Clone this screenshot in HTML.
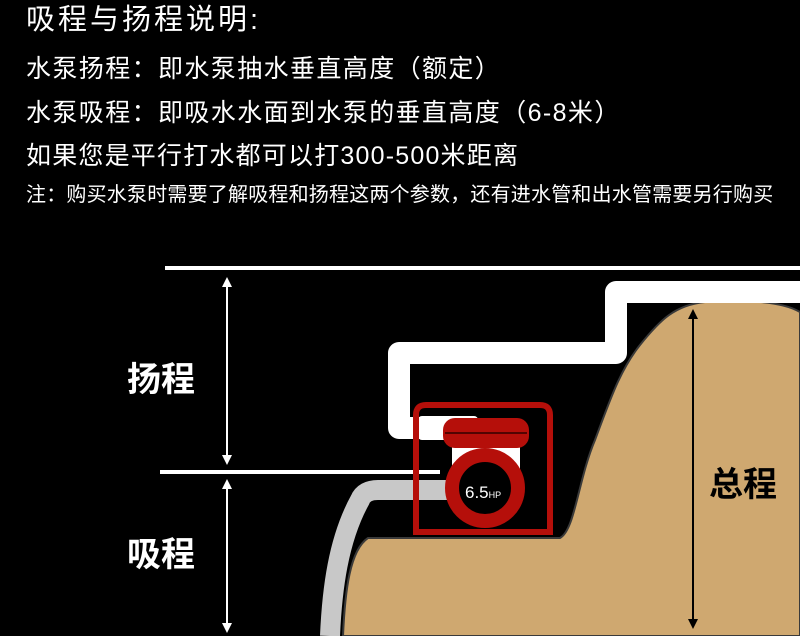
<!DOCTYPE html>
<html><head><meta charset="utf-8"><style>
html,body{margin:0;padding:0;background:#000;}
body{width:800px;height:636px;position:relative;overflow:hidden;font-family:"Liberation Sans","Noto Sans CJK SC",sans-serif;color:#fff;}
.t{position:absolute;left:26px;white-space:nowrap;line-height:1;}
</style></head><body>
<div class="t" style="top:6px;font-size:29px;letter-spacing:3px;">吸程与扬程说明:</div>
<div class="t" style="top:57px;font-size:25px;letter-spacing:1.4px;">水泵扬程：即水泵抽水垂直高度（额定）</div>
<div class="t" style="top:101px;font-size:25px;letter-spacing:1.4px;">水泵吸程：即吸水水面到水泵的垂直高度（6-8米）</div>
<div class="t" style="top:144px;font-size:25px;letter-spacing:1.2px;">如果您是平行打水都可以打300-500米距离</div>
<div class="t" style="top:185px;font-size:20px;letter-spacing:0.2px;">注：购买水泵时需要了解吸程和扬程这两个参数，还有进水管和出水管需要另行购买</div>
<svg width="800" height="636" style="position:absolute;left:0;top:0" xmlns="http://www.w3.org/2000/svg">
<defs>
<marker id="a" markerWidth="10" markerHeight="10" refX="5" refY="5" orient="auto-start-reverse" markerUnits="userSpaceOnUse"><path d="M0,0 L10,5 L0,10 z" fill="#fff"/></marker>
<marker id="b" markerWidth="10" markerHeight="10" refX="5" refY="5" orient="auto-start-reverse" markerUnits="userSpaceOnUse"><path d="M0,0 L10,5 L0,10 z" fill="#000"/></marker>
</defs>
<path d="M343,636 C345,590 350,550 368,538 L560,538 C575,530 578,480 595,440 C610,400 620,370 640,345 C660,320 675,305 705,302 C740,300 780,300 800,312 L800,636 Z" fill="#cfa870" stroke="#3a3a3a" stroke-width="2"/>
<path d="M330,636 C332,590 338,540 360,500 Q364,490 378,490 L455,490" fill="none" stroke="#c8c8c8" stroke-width="20"/>
<path d="M420,428 L399,428 L399,353 L616,353 L616,292 L800,292" fill="none" stroke="#fff" stroke-width="22" stroke-linejoin="round"/>
<rect x="418" y="416" width="60" height="24" rx="4" fill="#fff"/>
<line x1="165" y1="268" x2="800" y2="268" stroke="#fff" stroke-width="4"/>
<line x1="160" y1="472" x2="440" y2="472" stroke="#fff" stroke-width="4"/>
<line x1="227" y1="282" x2="227" y2="460" stroke="#fff" stroke-width="2" marker-start="url(#a)" marker-end="url(#a)"/>
<line x1="227" y1="484" x2="227" y2="628" stroke="#fff" stroke-width="2" marker-start="url(#a)" marker-end="url(#a)"/>
<line x1="693" y1="314" x2="693" y2="624" stroke="#000" stroke-width="2" marker-start="url(#b)" marker-end="url(#b)"/>
<path d="M416,532 L416,415 Q416,405 426,405 L540,405 Q550,405 550,415 L550,532 Z" fill="none" stroke="#b50f0a" stroke-width="6"/>
<rect x="452" y="447" width="68" height="32" fill="#fff"/>
<rect x="443" y="418" width="86" height="30" rx="12" fill="#b50f0a"/>
<line x1="445" y1="433" x2="527" y2="433" stroke="#300" stroke-width="1.5"/>
<circle cx="485" cy="488" r="33" fill="#000" stroke="#b50f0a" stroke-width="14"/>
<text x="465" y="498" font-family="Liberation Sans,sans-serif" font-size="17" fill="#fff">6.5<tspan font-size="9">HP</tspan></text>
<g font-family="Liberation Sans,Noto Sans CJK SC,sans-serif" font-weight="bold" font-size="34">
<text x="127" y="391" fill="#fff">扬程</text>
<text x="127" y="566" fill="#fff">吸程</text>
<text x="709" y="496" fill="#000">总程</text>
</g>
</svg>
</body></html>
